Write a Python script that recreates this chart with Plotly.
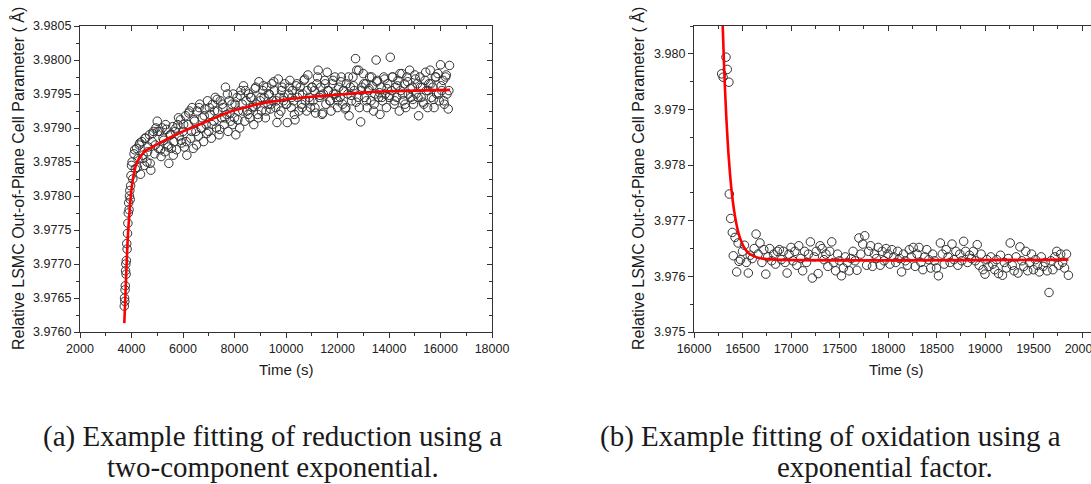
import plotly.graph_objects as go

# ---------------- data: (a) reduction ----------------
red_t = [3720, 3730, 3740, 3750, 3760, 3770, 3780, 3790, 3800, 3815, 3830, 3845, 3860, 3875, 3890, 3905,
         3920, 3935, 3950, 3965, 3980, 4000,
         4050, 4100, 4150, 4200, 4250, 4300, 4350, 4400, 4450, 4500,
         4550, 4600, 4650, 4700, 4750, 4800, 4850, 4900, 4950, 5000,
         5050, 5100, 5150, 5200, 5250, 5300, 5350, 5400, 5450, 5500,
         5550, 5600, 5650, 5700, 5750, 5800, 5850, 5900, 5950, 6000,
         6050, 6100, 6150, 6200, 6250, 6300, 6350, 6400, 6450, 6500,
         6550, 6600, 6650, 6700, 6750, 6800, 6850, 6900, 6950, 7000,
         7050, 7100, 7150, 7200, 7250, 7300, 7350, 7400, 7450, 7500,
         7550, 7600, 7650, 7700, 7750, 7800, 7850, 7900, 7950, 8000,
         8050, 8100, 8150, 8200, 8250, 8300, 8350, 8400, 8450, 8500,
         8550, 8600, 8650, 8700, 8750, 8800, 8850, 8900, 8950, 9000,
         9050, 9100, 9150, 9200, 9250, 9300, 9350, 9400, 9450, 9500,
         9550, 9600, 9650, 9700, 9750, 9800, 9850, 9900, 9950, 10000,
         10050, 10100, 10150, 10200, 10250, 10300, 10350, 10400, 10450, 10500,
         10550, 10600, 10650, 10700, 10750, 10800, 10850, 10900, 10950, 11000,
         11050, 11100, 11150, 11200, 11250, 11300, 11350, 11400, 11450, 11500,
         11550, 11600, 11650, 11700, 11750, 11800, 11850, 11900, 11950, 12000,
         12050, 12100, 12150, 12200, 12250, 12300, 12350, 12400, 12450, 12500,
         12550, 12600, 12650, 12700, 12750, 12800, 12850, 12900, 12950, 13000,
         13050, 13100, 13150, 13200, 13250, 13300, 13350, 13400, 13450, 13500,
         13550, 13600, 13650, 13700, 13750, 13800, 13850, 13900, 13950, 14000,
         14050, 14100, 14150, 14200, 14250, 14300, 14350, 14400, 14450, 14500,
         14550, 14600, 14650, 14700, 14750, 14800, 14850, 14900, 14950, 15000,
         15050, 15100, 15150, 15200, 15250, 15300, 15350, 15400, 15450, 15500,
         15550, 15600, 15650, 15700, 15750, 15800, 15850, 15900, 15950, 16000,
         16050, 16100, 16150, 16200, 16250, 16300, 16350]
red_y = [3.97638, 3.97650, 3.97645, 3.97662, 3.97668, 3.97690, 3.97700, 3.97685, 3.97705, 3.97730, 3.97722,
         3.97745, 3.97760, 3.97775, 3.97790, 3.97780, 3.97800, 3.97808, 3.97795, 3.97815, 3.97830, 3.97845,
         3.97825, 3.97862, 3.97840, 3.97870, 3.97855, 3.97875, 3.97832, 3.97880, 3.97860, 3.97845,
         3.97885, 3.97850, 3.97872, 3.97890, 3.97838, 3.97880, 3.97895, 3.97862, 3.97900, 3.97910,
         3.97870, 3.97895, 3.97858, 3.97900, 3.97882, 3.97865, 3.97898, 3.97875, 3.97848, 3.97890,
         3.97870, 3.97902, 3.97880, 3.97895, 3.97868, 3.97905, 3.97888, 3.97912, 3.97878, 3.97895,
         3.97872, 3.97918, 3.97860, 3.97905, 3.97925, 3.97885, 3.97930, 3.97870, 3.97910, 3.97895,
         3.97925, 3.97888, 3.97935, 3.97900, 3.97915, 3.97880, 3.97928, 3.97905, 3.97940, 3.97895,
         3.97920, 3.97885, 3.97935, 3.97910, 3.97945, 3.97900, 3.97925, 3.97890, 3.97940, 3.97915,
         3.97930, 3.97905, 3.97960, 3.97920, 3.97895, 3.97940, 3.97910, 3.97935, 3.97950, 3.97915,
         3.97890, 3.97945, 3.97925, 3.97900, 3.97955, 3.97935, 3.97962, 3.97910, 3.97940, 3.97925,
         3.97950, 3.97915, 3.97945, 3.97930, 3.97905, 3.97958, 3.97935, 3.97920, 3.97968, 3.97940,
         3.97925, 3.97955, 3.97945, 3.97915, 3.97960, 3.97935, 3.97950, 3.97928, 3.97965, 3.97940,
         3.97955, 3.97930, 3.97908, 3.97972, 3.97945, 3.97925, 3.97960, 3.97940, 3.97965, 3.97935,
         3.97908, 3.97950, 3.97970, 3.97930, 3.97955, 3.97940, 3.97912, 3.97962, 3.97945, 3.97925,
         3.97960, 3.97935, 3.97950, 3.97970, 3.97940, 3.97925, 3.97978, 3.97945, 3.97930, 3.97960,
         3.97940, 3.97955, 3.97922, 3.97965, 3.97985, 3.97945, 3.97960, 3.97920, 3.97950, 3.97970,
         3.97935, 3.97982, 3.97955, 3.97940, 3.97925, 3.97965, 3.97950, 3.97975, 3.97945, 3.97930,
         3.97960, 3.97945, 3.97975, 3.97935, 3.97955, 3.97928, 3.97965, 3.97950, 3.97918, 3.97960,
         3.97940, 3.97975, 3.97955, 3.98002, 3.97985, 3.97945, 3.97930, 3.97909, 3.97960, 3.97980,
         3.97945, 3.97965, 3.97930, 3.97955, 3.97975, 3.97940, 3.97962, 3.97925, 3.97950, 3.98000,
         3.97970, 3.97945, 3.97920, 3.97960, 3.97940, 3.97975, 3.97950, 3.97930, 3.97965, 3.97945,
         3.98004, 3.97955, 3.97975, 3.97935, 3.97960, 3.97945, 3.97970, 3.97925, 3.97955, 3.97980,
         3.97940, 3.97965, 3.97930, 3.97975, 3.97950, 3.97985, 3.97945, 3.97960, 3.97935, 3.97978,
         3.97950, 3.97965, 3.97918, 3.97975, 3.97945, 3.97960, 3.97935, 3.97970, 3.97955, 3.97930,
         3.97965, 3.97985, 3.97945, 3.97960, 3.97930, 3.97975, 3.97950, 3.97980, 3.97940, 3.97993,
         3.97955, 3.97970, 3.97935, 3.97975, 3.97950, 3.97928, 3.97992]

# second interleaved sampling of the same measurement (dense band)
red_t2 = [4025, 4125, 4225, 4325, 4425, 4525, 4625, 4725, 4825, 4925,
          5025, 5125, 5225, 5325, 5425, 5525, 5625, 5725, 5825, 5925,
          6025, 6125, 6225, 6325, 6425, 6525, 6625, 6725, 6825, 6925,
          7025, 7125, 7225, 7325, 7425, 7525, 7625, 7725, 7825, 7925,
          8025, 8125, 8225, 8325, 8425, 8525, 8625, 8725, 8825, 8925,
          9025, 9125, 9225, 9325, 9425, 9525, 9625, 9725, 9825, 9925,
          10025, 10125, 10225, 10325, 10425, 10525, 10625, 10725, 10825, 10925,
          11025, 11125, 11225, 11325, 11425, 11525, 11625, 11725, 11825, 11925,
          12025, 12125, 12225, 12325, 12425, 12525, 12625, 12725, 12825, 12925,
          13025, 13125, 13225, 13325, 13425, 13525, 13625, 13725, 13825, 13925,
          14025, 14125, 14225, 14325, 14425, 14525, 14625, 14725, 14825, 14925,
          15025, 15125, 15225, 15325, 15425, 15525, 15625, 15725, 15825, 15925,
          16025, 16125, 16225, 16325]
red_y2 = [3.97850, 3.97868, 3.97842, 3.97878, 3.97855, 3.97885, 3.97865, 3.97848, 3.97892, 3.97875,
          3.97895, 3.97868, 3.97885, 3.97905, 3.97872, 3.97890, 3.97860, 3.97900, 3.97915, 3.97882,
          3.97905, 3.97880, 3.97922, 3.97895, 3.97912, 3.97875, 3.97930, 3.97900, 3.97918, 3.97892,
          3.97930, 3.97905, 3.97925, 3.97942, 3.97898, 3.97935, 3.97915, 3.97950, 3.97922, 3.97905,
          3.97935, 3.97912, 3.97948, 3.97925, 3.97955, 3.97920, 3.97945, 3.97932, 3.97960, 3.97915,
          3.97945, 3.97962, 3.97925, 3.97950, 3.97935, 3.97968, 3.97940, 3.97920, 3.97955, 3.97945,
          3.97935, 3.97960, 3.97945, 3.97920, 3.97965, 3.97950, 3.97930, 3.97972, 3.97955, 3.97940,
          3.97960, 3.97930, 3.97975, 3.97948, 3.97922, 3.97965, 3.97955, 3.97940, 3.97970, 3.97950,
          3.97940, 3.97968, 3.97955, 3.97930, 3.97975, 3.97948, 3.97962, 3.97938, 3.97985, 3.97955,
          3.97965, 3.97940, 3.97958, 3.97975, 3.97935, 3.97968, 3.97952, 3.97945, 3.97972, 3.97958,
          3.97948, 3.97975, 3.97940, 3.97962, 3.97980, 3.97950, 3.97935, 3.97968, 3.97958, 3.97942,
          3.97972, 3.97945, 3.97960, 3.97938, 3.97982, 3.97955, 3.97965, 3.97942, 3.97975, 3.97950,
          3.97962, 3.97940, 3.97978, 3.97955]

red_fit_t = [3720, 3760, 3800, 3850, 3900, 3950, 4000, 4100, 4200, 4350, 4500, 4800, 5100, 5500, 6000,
             6500, 7000, 7500, 8000, 8500, 9000, 9500, 10000, 11000, 12000, 13000, 14000, 15000, 16370]
red_fit_y = [3.97613, 3.97650, 3.97690, 3.97735, 3.97765, 3.97790, 3.97810, 3.97834, 3.97848, 3.97858,
             3.97865, 3.97872, 3.97878, 3.97886, 3.97895, 3.97903, 3.97911, 3.97919, 3.97926, 3.97931,
             3.97936, 3.97939, 3.97942, 3.97946, 3.97949, 3.97952, 3.97954, 3.97955, 3.97956]

# ---------------- data: (b) oxidation ----------------
ox_t = [16285, 16300, 16330, 16343, 16360, 16364, 16378, 16395, 16405, 16423, 16440, 16455, 16464,
        16480, 16500, 16520, 16540, 16560, 16580, 16600, 16620, 16640, 16660,
        16680, 16700, 16720, 16740, 16760, 16780, 16800, 16820, 16840, 16860,
        16880, 16900, 16920, 16940, 16960, 16980, 17000, 17020, 17040, 17060,
        17080, 17100, 17120, 17140, 17160, 17180, 17200, 17220, 17240, 17260,
        17280, 17300, 17320, 17340, 17360, 17380, 17400, 17420, 17440, 17460,
        17480, 17500, 17520, 17540, 17560, 17580, 17600, 17620, 17640, 17660,
        17680, 17700, 17720, 17740, 17760, 17780, 17800, 17820, 17840, 17860,
        17880, 17900, 17920, 17940, 17960, 17980, 18000, 18020, 18040, 18060,
        18080, 18100, 18120, 18140, 18160, 18180, 18200, 18220, 18240, 18260,
        18280, 18300, 18320, 18340, 18360, 18380, 18400, 18420, 18440, 18460,
        18480, 18500, 18520, 18540, 18560, 18580, 18600, 18620, 18640, 18660,
        18680, 18700, 18720, 18740, 18760, 18780, 18800, 18820, 18840, 18860,
        18880, 18900, 18920, 18940, 18960, 18980, 19000, 19020, 19040, 19060,
        19080, 19100, 19120, 19140, 19160, 19180, 19200, 19220, 19240, 19260,
        19280, 19300, 19320, 19340, 19360, 19380, 19400, 19420, 19440, 19460,
        19480, 19500, 19520, 19540, 19560, 19580, 19600, 19620, 19640, 19660,
        19680, 19700, 19720, 19740, 19760, 19780, 19800, 19820, 19840, 19860]
ox_y = [3.97964, 3.97958, 3.97994, 3.97972, 3.97949, 3.97748, 3.97704, 3.97679, 3.97637, 3.97670, 3.97608,
        3.97660, 3.97627,
        3.97630, 3.97645, 3.97656, 3.97625, 3.97606, 3.97638, 3.97632, 3.97650, 3.97676, 3.97640,
        3.97660, 3.97625, 3.97648, 3.97604, 3.97635, 3.97650, 3.97628, 3.97640, 3.97622, 3.97645,
        3.97648, 3.97630, 3.97645, 3.97625, 3.97606, 3.97640, 3.97652, 3.97628, 3.97645, 3.97620,
        3.97655, 3.97632, 3.97610, 3.97645, 3.97625, 3.97640, 3.97662, 3.97597, 3.97635, 3.97645,
        3.97605, 3.97655, 3.97650, 3.97630, 3.97640, 3.97618, 3.97645, 3.97662, 3.97625, 3.97610,
        3.97640, 3.97628, 3.97601, 3.97615, 3.97635, 3.97625, 3.97610, 3.97632, 3.97645, 3.97628,
        3.97611, 3.97669, 3.97640, 3.97658, 3.97673, 3.97620, 3.97645, 3.97655, 3.97618, 3.97640,
        3.97632, 3.97652, 3.97620, 3.97645, 3.97628, 3.97650, 3.97640, 3.97622, 3.97648, 3.97635,
        3.97625, 3.97645, 3.97632, 3.97608, 3.97640, 3.97628, 3.97620, 3.97648, 3.97635, 3.97652,
        3.97618, 3.97640, 3.97652, 3.97625, 3.97612, 3.97635, 3.97648, 3.97630, 3.97615, 3.97640,
        3.97628, 3.97615, 3.97601, 3.97660, 3.97640, 3.97622, 3.97648, 3.97635, 3.97625, 3.97658,
        3.97630, 3.97645, 3.97620, 3.97640, 3.97628, 3.97663, 3.97645, 3.97625, 3.97638, 3.97632,
        3.97645, 3.97628, 3.97657, 3.97620, 3.97640, 3.97612, 3.97604, 3.97630, 3.97618, 3.97635,
        3.97622, 3.97612, 3.97630, 3.97605, 3.97638, 3.97602, 3.97625, 3.97615, 3.97632, 3.97660,
        3.97620, 3.97610, 3.97635, 3.97606, 3.97653, 3.97628, 3.97618, 3.97645, 3.97610, 3.97625,
        3.97640, 3.97612, 3.97630, 3.97620, 3.97608, 3.97635, 3.97618, 3.97625, 3.97610, 3.97571,
        3.97628, 3.97612, 3.97635, 3.97645, 3.97620, 3.97640, 3.97625, 3.97615, 3.97640, 3.97602]

ox_fit_t = [16296, 16310, 16320, 16330, 16340, 16355, 16370, 16385, 16400, 16420, 16440, 16460, 16490,
            16520, 16560, 16620, 16700, 16850, 19860]
ox_fit_y = [3.98050, 3.97979, 3.97935, 3.97897, 3.97864, 3.97821, 3.97787, 3.97758, 3.97735, 3.97711,
            3.97692, 3.97677, 3.97662, 3.97651, 3.97642, 3.97636, 3.97632, 3.97630, 3.97630]

y_title = "Relative LSMC Out-of-Plane Cell Parameter ( Å)"
x_title = "Time (s)"
cap_a = ["(a) Example fitting of reduction using a", "two-component exponential."]
cap_b = ["(b) Example fitting of oxidation using a", "exponential factor."]

# ---------------- layout helpers ----------------
W, H = 1091, 484
def px(x): return x / W
def py(y): return 1 - y / H

AX = "#333333"
TICKF = dict(family="Liberation Sans, Arial, sans-serif", size=12.5, color="#222222")
ydom = [py(332), py(26)]
dom_a = [px(80), px(492)]
dom_b = [px(694), 1.0]
xr_a = [2000, 18000]
yr_a = [3.976, 3.9805]
xr_b = [16000, 16000 + (1091 - 694) * 4000 / 388]
yr_b = [3.975, 3.9805]

marker = dict(symbol="circle-open", size=8.5, color="#333333", line=dict(width=1, color="#333333"))
fitline = dict(color="#ff0000", width=2.6, shape="spline")

fig = go.Figure()
fig.add_trace(go.Scatter(x=red_t, y=red_y, mode="markers", marker=marker, xaxis="x", yaxis="y",
                         showlegend=False))
fig.add_trace(go.Scatter(x=red_t2, y=red_y2, mode="markers", marker=marker, xaxis="x", yaxis="y",
                         showlegend=False))
fig.add_trace(go.Scatter(x=red_fit_t, y=red_fit_y, mode="lines", line=fitline, xaxis="x", yaxis="y",
                         showlegend=False))
fig.add_trace(go.Scatter(x=ox_t, y=ox_y, mode="markers", marker=marker, xaxis="x2", yaxis="y2",
                         showlegend=False))
fig.add_trace(go.Scatter(x=ox_fit_t, y=ox_fit_y, mode="lines", line=fitline, xaxis="x2", yaxis="y2",
                         showlegend=False))
# dummies for mirrored (inward) tick axes
fig.add_trace(go.Scatter(x=[None], y=[None], xaxis="x3", yaxis="y3", showlegend=False))
fig.add_trace(go.Scatter(x=[None], y=[None], xaxis="x4", yaxis="y4", showlegend=False))

common = dict(showgrid=False, zeroline=False, showline=True, linecolor=AX, linewidth=1.3,
              tickcolor=AX, tickwidth=1.1, tickfont=TICKF, automargin=False)

fig.update_layout(
    width=W, height=H, margin=dict(l=0, r=0, t=0, b=0, autoexpand=False),
    paper_bgcolor="white", plot_bgcolor="white",
    xaxis=dict(domain=dom_a, range=xr_a, anchor="y", tick0=2000, dtick=2000, tickformat="d",
               ticks="outside", ticklen=5,
               minor=dict(dtick=1000, ticks="outside", ticklen=3, tickcolor=AX), **common),
    yaxis=dict(domain=ydom, range=yr_a, anchor="x", tick0=3.976, dtick=0.0005, tickformat=".4f",
               ticks="outside", ticklen=5,
               minor=dict(dtick=0.00025, ticks="outside", ticklen=3, tickcolor=AX), **common),
    xaxis3=dict(overlaying="x", range=xr_a, anchor="y3", side="top", tick0=2000, dtick=2000,
                ticks="inside", ticklen=5, showticklabels=False,
                minor=dict(dtick=1000, ticks="inside", ticklen=3, tickcolor=AX), **common),
    yaxis3=dict(overlaying="y", range=yr_a, anchor="x3", side="right", tick0=3.976, dtick=0.0005,
                ticks="inside", ticklen=5, showticklabels=False,
                minor=dict(dtick=0.00025, ticks="inside", ticklen=3, tickcolor=AX), **common),
    xaxis2=dict(domain=dom_b, range=xr_b, anchor="y2", tick0=16000, dtick=500, tickformat="d",
                ticks="outside", ticklen=5, ticklabeloverflow="allow",
                minor=dict(dtick=250, ticks="outside", ticklen=3, tickcolor=AX), **common),
    yaxis2=dict(domain=ydom, range=yr_b, anchor="x2", tick0=3.975, dtick=0.001, tickformat=".3f",
                ticks="outside", ticklen=5,
                minor=dict(dtick=0.0005, ticks="outside", ticklen=3, tickcolor=AX), **common),
    xaxis4=dict(overlaying="x2", range=xr_b, anchor="y4", side="top", tick0=16000, dtick=500,
                ticks="inside", ticklen=5, showticklabels=False,
                minor=dict(dtick=250, ticks="inside", ticklen=3, tickcolor=AX), **common),
    yaxis4=dict(overlaying="y2", range=yr_b, anchor="x4", side="right", visible=False, automargin=False),
)

ann = []
TF = dict(family="Liberation Sans, Arial, sans-serif", size=16, color="#1a1a1a")
XF = dict(family="Liberation Sans, Arial, sans-serif", size=15, color="#1a1a1a")
ann.append(dict(text=y_title, x=px(18), y=py(179), textangle=-90, font=TF))
ann.append(dict(text=y_title, x=px(638), y=py(179), textangle=-90, font=TF))
ann.append(dict(text=x_title, x=px(286), y=py(369), font=XF))
ann.append(dict(text=x_title, x=px(896), y=py(369), font=XF))
CF = dict(family="Liberation Serif, Times New Roman, serif", size=29, color="#1a1a1a")
ann.append(dict(text=cap_a[0], x=px(272), y=py(436), font=CF))
ann.append(dict(text=cap_a[1], x=px(273), y=py(467), font=CF))
ann.append(dict(text=cap_b[0], x=px(598), y=py(436), xanchor="left", font=CF))
ann.append(dict(text=cap_b[1], x=px(885), y=py(467), font=CF))
for a in ann:
    a.update(xref="paper", yref="paper", showarrow=False)
    a.setdefault("xanchor", "center")
    a.setdefault("yanchor", "middle")
fig.update_layout(annotations=ann)

fig.write_html("out.html", config={"displayModeBar": False},
               post_script="document.body.style.margin='0';document.body.style.overflow='hidden';")
